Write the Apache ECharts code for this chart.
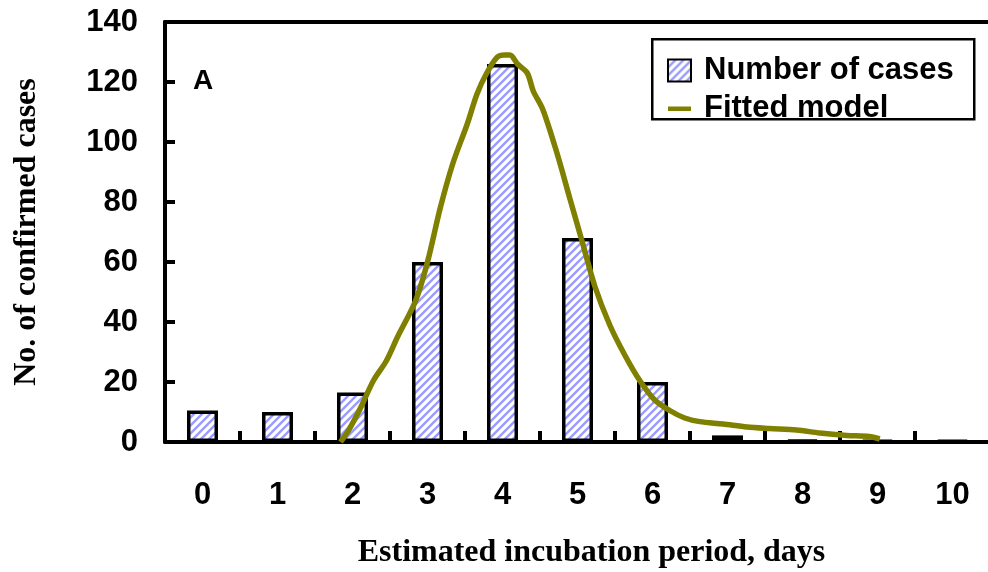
<!DOCTYPE html>
<html>
<head>
<meta charset="utf-8">
<script src="https://cdn.jsdelivr.net/npm/echarts@6/dist/echarts.min.js"></script>
<style>
  html, body { margin: 0; padding: 0; background: #fff; }
  #chart { width: 988px; height: 572px; }
</style>
</head>
<body>
<div id="chart"></div>
<script>
// Incubation period categories (days) and case counts per day
const days = ['0', '1', '2', '3', '4', '5', '6', '7', '8', '9', '10'];
const cases = [10.5, 10, 16.5, 60, 126, 68, 20, 2.2, 0.6, 0.5, 0.5];

// Fitted model curve: [day, cases]
const fitDays = [1.84, 1.95, 2.1, 2.28, 2.45, 2.6, 2.84, 3.0, 3.17, 3.34, 3.53, 3.66, 3.79, 3.93, 4.03, 4.1, 4.2, 4.33, 4.41, 4.54, 4.73, 4.9, 5.06, 5.23, 5.43, 5.63, 5.83, 6.03, 6.23, 6.43, 6.63, 6.94, 7.26, 7.56, 7.92, 8.23, 8.59, 8.89, 9.03];
const fitCases = [0, 4, 11, 20.5, 27, 35, 47, 60, 78, 93, 106, 116, 123, 128.3, 129, 129, 126, 123, 117, 110.7, 96, 81, 67, 52, 39, 29, 20.5, 14, 10.5, 8, 6.8, 6, 5, 4.5, 4, 3, 2.2, 1.8, 1];

const yTicks = [0, 20, 40, 60, 80, 100, 120, 140];

// Diagonal hatch fill for the bars
function hatch() {
  const s = 8;
  const c = document.createElement('canvas');
  c.width = s; c.height = s;
  const g = c.getContext('2d');
  g.fillStyle = '#ffffff';
  g.fillRect(0, 0, s, s);
  g.strokeStyle = '#9c9cff';
  g.lineWidth = 2.4;
  g.beginPath();
  g.moveTo(-2, s + 2); g.lineTo(s + 2, -2);
  g.moveTo(-2, 2); g.lineTo(2, -2);
  g.moveTo(s - 2, s + 2); g.lineTo(s + 2, s - 2);
  g.stroke();
  return c;
}

const SANS = 'Liberation Sans, Arial, sans-serif';
const SERIF = 'Liberation Serif, Times New Roman, serif';

const chart = echarts.init(document.getElementById('chart'), null, { renderer: 'canvas' });
chart.setOption({
  backgroundColor: '#ffffff',
  animation: false,
  title: {
    text: 'A', left: 188, top: 62,
    textStyle: { fontFamily: SANS, fontWeight: 'bold', fontSize: 28, color: '#000' }
  },
  // frame around the legend
  graphic: [{
    type: 'rect',
    left: 651, top: 38,
    shape: { width: 322, height: 80 },
    style: { fill: '#fff', stroke: '#000', lineWidth: 2.5 },
    z: 10
  }],
  legend: {
    left: 651, top: 39,
    orient: 'vertical',
    padding: [16, 18, 3, 16],
    itemGap: 7,
    itemWidth: 23, itemHeight: 22,
    itemTextGap: 14,
    borderWidth: 0,
    z: 20,
    textStyle: { fontFamily: SANS, fontWeight: 'bold', fontSize: 31, lineHeight: 26, color: '#000', padding: [0, 0, 0, 8] },
    data: [
      { name: 'Number of cases', icon: 'rect' },
      { name: 'Fitted model', icon: 'path://M0,0 L0,0 M0,9 L23,9 L23,13.5 L0,13.5 Z M23,22 L23,22' }
    ]
  },
  grid: { left: 165, right: -2, top: 22, bottom: 130, outerBoundsMode: 'none', containLabel: false },
  xAxis: [
    {
      type: 'category',
      data: days,
      boundaryGap: true,
      position: 'bottom',
      axisLine: { onZero: false, lineStyle: { color: '#000', width: 4 } },
      axisTick: { show: true, inside: true, length: 11, interval: 0, lineStyle: { color: '#000', width: 4 } },
      axisLabel: { margin: 38, fontFamily: SANS, fontWeight: 'bold', fontSize: 31, color: '#000' },
      name: 'Estimated incubation period, days',
      nameLocation: 'middle',
      nameGap: 95,
      nameTextStyle: { fontFamily: SERIF, fontWeight: 'bold', fontSize: 32, color: '#000', padding: [0, 0, 0, 28] }
    },
    {
      type: 'value',
      min: -0.5, max: 10.5,
      position: 'top',
      axisLine: { show: true, onZero: false, lineStyle: { color: '#000', width: 4 } },
      axisTick: { show: false },
      axisLabel: { show: false },
      splitLine: { show: false }
    }
  ],
  yAxis: {
    type: 'value',
    min: 0, max: 140, interval: 20,
    position: 'left',
    axisLine: { show: true, onZero: false, lineStyle: { color: '#000', width: 4 } },
    axisTick: { show: true, inside: true, length: 10, lineStyle: { color: '#000', width: 4 } },
    axisLabel: {
      margin: 27, fontFamily: SANS, fontWeight: 'bold', fontSize: 31, color: '#000',
      formatter: v => (yTicks.includes(v) ? String(v) : '')
    },
    splitLine: { show: false },
    name: 'No. of confirmed cases',
    nameLocation: 'middle',
    nameGap: 122,
    nameTextStyle: { fontFamily: SERIF, fontWeight: 'bold', fontSize: 32, color: '#000' }
  },
  series: [
    {
      name: 'Number of cases',
      type: 'bar',
      xAxisIndex: 0,
      data: cases,
      barWidth: 31,
      itemStyle: {
        color: { image: hatch(), repeat: 'repeat' },
        borderColor: '#000',
        borderWidth: 3.5
      },
      z: 2
    },
    {
      name: 'Fitted model',
      type: 'line',
      xAxisIndex: 1,
      data: fitDays.map((d, i) => [d, fitCases[i]]),
      smooth: 0.3,
      symbol: 'none',
      lineStyle: { color: '#808000', width: 5.5 },
      itemStyle: { color: '#808000' },
      z: 3
    }
  ]
});
</script>
</body>
</html>
